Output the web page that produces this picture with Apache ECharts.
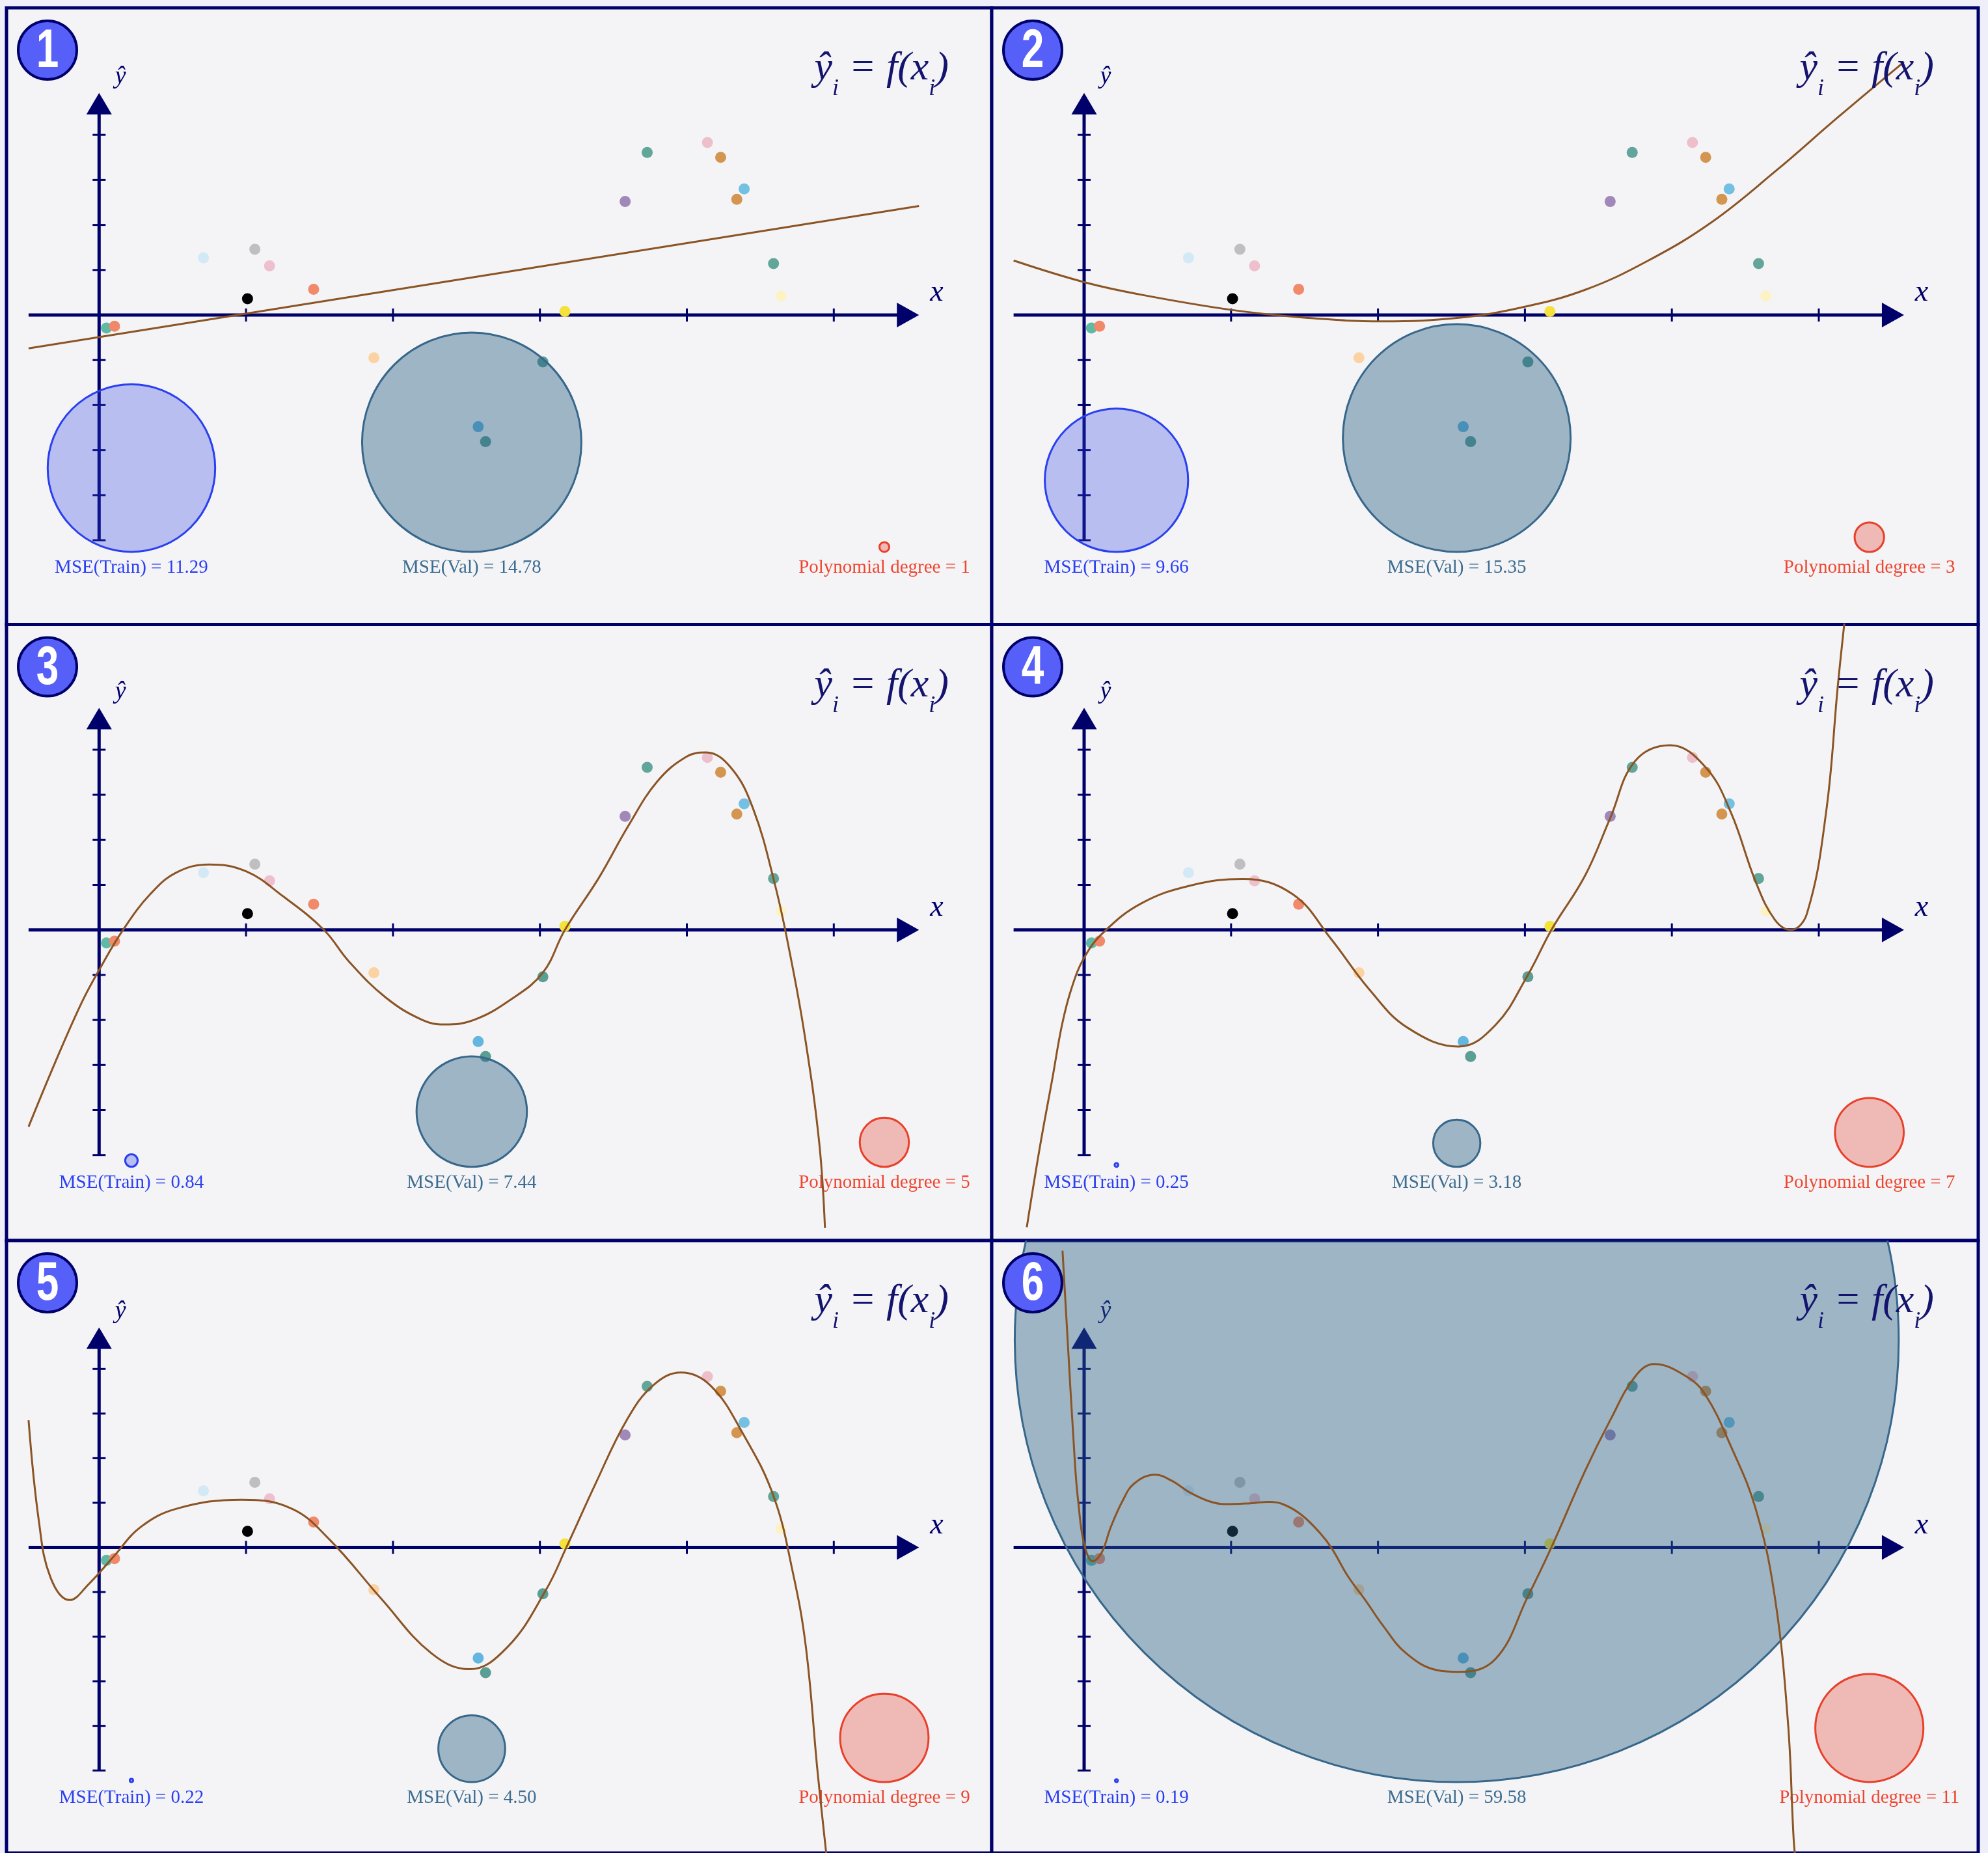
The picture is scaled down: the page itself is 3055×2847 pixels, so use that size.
<!DOCTYPE html>
<html>
<head>
<meta charset="utf-8">
<style>
  html, body { margin: 0; padding: 0; background: #efeffa; }
  #chart { width: 3055px; height: 2847px; }
</style>
<script src="https://cdn.jsdelivr.net/npm/echarts@6/dist/echarts.min.js"></script>
</head>
<body>
<div id="chart"></div>
<script>
// ---- data ----
const pointX = [0.05, 0.105, 0.71, 1.01, 1.06, 1.16, 1.46, 1.87, 2.58, 2.63, 3.02, 3.17, 3.58, 3.73, 4.14, 4.23, 4.39, 4.34, 4.59, 4.64];
const pointY = [-0.29, -0.25, 1.27, 0.36, 1.46, 1.09, 0.57, -0.95, -2.48, -2.81, -1.04, 0.08, 2.52, 3.61, 3.83, 3.50, 2.80, 2.57, 1.14, 0.42];
const pointColors = ['#5eb9a5', '#f0886a', '#d3e9f5', '#000000', '#bfbfbf', '#eebfcc', '#f08a6a', '#fbd3a3', '#62b6df', '#5a9e94',
  '#5a9e94', '#f5e13c', '#a088b8', '#62a69a', '#edbfcb', '#d39550', '#74c0e2', '#d39550', '#62a69a', '#fdf2c4'];

const degrees = [1, 3, 5, 7, 9, 11];
const mseTrain = [11.29, 9.66, 0.84, 0.25, 0.22, 0.19];
const mseVal = [14.78, 15.35, 7.44, 3.18, 4.50, 59.58];

// fitted curves, [x, y] samples
const fitDeg1 = [[-0.48, -0.74], [5.58, 2.42]];
const fitDeg3 = [[-0.48, 1.21], [0, 0.73], [0.39, 0.45], [1.01, 0.11], [1.51, -0.06], [2.03, -0.14], [2.55, -0.06], [2.98, 0.17],
  [3.41, 0.56], [3.84, 1.21], [4.27, 2.06], [4.70, 3.18], [5.13, 4.39], [5.58, 5.62]];
const fitDeg5 = [[-0.48, -4.37], [-0.3, -2.95], [-0.118, -1.61], [0, -0.89], [0.163, 0], [0.35, 0.8], [0.53, 1.28], [0.75, 1.45],
  [1.0, 1.3], [1.25, 0.75], [1.53, 0], [1.7, -0.7], [1.95, -1.5], [2.2, -2.0], [2.35, -2.1], [2.55, -2.0], [2.8, -1.55],
  [3.02, -0.95], [3.17, 0], [3.4, 1.15], [3.6, 2.3], [3.8, 3.3], [4.0, 3.85], [4.13, 3.94], [4.3, 3.6], [4.45, 2.7], [4.6, 1.0],
  [4.7, -0.5], [4.8, -2.3], [4.9, -4.7], [4.94, -6.62]];
const fitDeg7 = [[-0.39, -6.6], [-0.3, -4.8], [-0.216, -3.3], [-0.15, -2.1], [-0.086, -1.3], [0, -0.62], [0.13, -0.06], [0.39, 0.59],
  [0.73, 0.99], [1.08, 1.13], [1.42, 0.79], [1.68, -0.2], [1.94, -1.32], [2.2, -2.17], [2.55, -2.59], [2.8, -2.11], [3.02, -1.0],
  [3.18, 0], [3.41, 1.21], [3.58, 2.48], [3.75, 3.75], [3.99, 4.1], [4.23, 3.61], [4.4, 2.62], [4.57, 1.07], [4.7, 0.23], [4.81, 0],
  [4.92, 0.37], [5.05, 2.62], [5.13, 5.44], [5.18, 7.0]];
const fitDeg9 = [[-0.48, 2.85], [-0.41, 0.59], [-0.33, -0.68], [-0.2, -1.18], [-0.07, -0.82], [0.1, -0.2], [0.28, 0.45], [0.53, 0.87],
  [0.97, 1.07], [1.31, 0.87], [1.57, 0.17], [1.92, -1.15], [2.26, -2.37], [2.52, -2.73], [2.78, -2.23], [3.04, -0.96], [3.18, 0],
  [3.38, 1.44], [3.59, 2.85], [3.77, 3.63], [3.96, 3.92], [4.16, 3.63], [4.38, 2.56], [4.59, 1.15], [4.72, -0.54], [4.81, -2.23],
  [4.89, -5.04], [4.95, -6.9]];
const fitDeg11 = [[-0.147, 6.65], [-0.063, 1.91], [-0.039, 0.99], [0, 0.08], [0.059, -0.31], [0.119, -0.12], [0.182, 0.46],
  [0.261, 1.04], [0.34, 1.43], [0.483, 1.63], [0.593, 1.5], [0.72, 1.23], [0.846, 1.04], [0.957, 0.97], [1.131, 0.99], [1.258, 1.02],
  [1.352, 0.97], [1.479, 0.73], [1.606, 0.32], [1.685, -0.02], [1.796, -0.65], [1.922, -1.22], [2.033, -1.75], [2.19, -2.37],
  [2.4, -2.75], [2.55, -2.79], [2.8, -2.5], [3.02, -1.1], [3.18, 0], [3.41, 1.72], [3.58, 2.85], [3.75, 3.83], [3.88, 4.11],
  [4.1, 3.83], [4.23, 3.41], [4.4, 2.28], [4.57, 0.87], [4.7, -1.1], [4.79, -3.92], [4.83, -6.6], [4.85, -7.2]];
const fits = [fitDeg1, fitDeg3, fitDeg5, fitDeg7, fitDeg9, fitDeg11];

const xTicks = [1, 2, 3, 4, 5];
const yTicks = [-5, -4, -3, -2, -1, 1, 2, 3, 4];

// ---- layout ----
const NAVY = '#00006b';
const UX = 225.8, UY = 69.2;              // px per data unit
const colLeft = [10, 1524], colWidth = [1514, 1516], originX = [152.3, 1666];
const rowTop = [12, 959.5, 1906], rowHeight = [947.5, 946.5, 950], originY = [484, 1428.7, 2382];
const X_AXIS = [-0.48, 5.58], Y_AXIS = [-5, 4.93];
const TRAIN_CX = 0.22, VAL_CX = 2.536, DEG_CX = 5.344, CIRCLE_BASE = -5.26, LABEL_Y = -5.61;
const MSE_PX = 11.4, DEG_PX = 7.55;
const circleStyles = [
  { fill: 'rgba(45,65,225,0.30)', stroke: '#2a3ff0' },
  { fill: 'rgba(38,92,130,0.42)', stroke: '#37678a' },
  { fill: 'rgba(230,50,30,0.30)', stroke: '#e8402a' }
];
const labelColors = ['#2a3ff0', '#3d6d8f', '#ee4630'];

const panels = degrees.map((d, i) => {
  const c = i % 2, r = Math.floor(i / 2);
  const left = colLeft[c], top = rowTop[r], width = colWidth[c], height = rowHeight[r];
  const ox = originX[c], oy = originY[r];
  return {
    left, top, width, height,
    xMin: (left - ox) / UX, xMax: (left + width - ox) / UX,
    yMin: (oy - top - height) / UY, yMax: (oy - top) / UY
  };
});

function decorRenderer(i) {
  return function (params, api) {
    const kids = [];
    const seg = (p, q, w) => kids.push({ type: 'line', shape: { x1: p[0], y1: p[1], x2: q[0], y2: q[1] }, style: { stroke: NAVY, lineWidth: w } });
    const text = (p, str, font, fill) => kids.push({ type: 'text', x: p[0], y: p[1], style: { text: str, font: font, fill: fill, align: 'center', verticalAlign: 'middle' } });
    // x axis
    const xs = api.coord([X_AXIS[0], 0]), xe = api.coord([X_AXIS[1], 0]);
    seg(xs, [xe[0] - 30, xe[1]], 5);
    kids.push({ type: 'polygon', shape: { points: [xe, [xe[0] - 34, xe[1] - 19], [xe[0] - 34, xe[1] + 19]] }, style: { fill: NAVY } });
    // y axis
    const ys = api.coord([0, Y_AXIS[0]]), ye = api.coord([0, Y_AXIS[1]]);
    seg(ys, [ye[0], ye[1] + 30], 5);
    kids.push({ type: 'polygon', shape: { points: [ye, [ye[0] - 19.5, ye[1] + 33], [ye[0] + 19.5, ye[1] + 33]] }, style: { fill: NAVY } });
    xTicks.forEach(t => { const p = api.coord([t, 0]); seg([p[0], p[1] - 10], [p[0], p[1] + 10], 3); });
    yTicks.forEach(t => { const p = api.coord([0, t]); seg([p[0] - 10, p[1]], [p[0] + 10, p[1]], 3); });
    text(api.coord([0.146, 5.29]), 'ŷ', 'italic 38px "Liberation Serif", serif', NAVY);
    text(api.coord([5.70, 0.49]), 'x', 'italic 46px "Liberation Serif", serif', NAVY);
    const lf = '29px "Liberation Serif", serif';
    text(api.coord([TRAIN_CX, LABEL_Y]), 'MSE(Train) = ' + mseTrain[i].toFixed(2), lf, labelColors[0]);
    text(api.coord([VAL_CX, LABEL_Y]), 'MSE(Val) = ' + mseVal[i].toFixed(2), lf, labelColors[1]);
    text(api.coord([DEG_CX, LABEL_Y]), 'Polynomial degree = ' + degrees[i], lf, labelColors[2]);
    return { type: 'group', children: kids };
  };
}

function circleRenderer(params, api) {
  const p = api.coord([api.value(0), api.value(1)]);
  const r = api.value(2);
  const s = circleStyles[api.value(3)];
  return { type: 'circle', shape: { cx: p[0], cy: p[1] - r, r: r }, style: { fill: s.fill, stroke: s.stroke, lineWidth: 3 } };
}

const series = [];
panels.forEach((p, i) => {
  series.push({
    type: 'custom', xAxisIndex: i, yAxisIndex: i, z: 2, silent: true,
    data: [[0, 0]], renderItem: decorRenderer(i)
  });
  series.push({
    type: 'scatter', xAxisIndex: i, yAxisIndex: i, z: 3, silent: true, symbolSize: 17,
    data: pointX.map((x, k) => ({ value: [x, pointY[k]], itemStyle: { color: pointColors[k], opacity: 1 } }))
  });
  series.push({
    type: 'custom', xAxisIndex: i, yAxisIndex: i, z: 4, silent: true, clip: true,
    data: [
      [TRAIN_CX, CIRCLE_BASE, mseTrain[i] * MSE_PX, 0],
      [VAL_CX, CIRCLE_BASE, mseVal[i] * MSE_PX, 1],
      [DEG_CX, CIRCLE_BASE, degrees[i] * DEG_PX, 2]
    ],
    renderItem: circleRenderer
  });
  series.push({
    type: 'line', xAxisIndex: i, yAxisIndex: i, z: 5, silent: true, clip: true,
    data: fits[i], smooth: 0.4, showSymbol: false, symbol: 'none',
    lineStyle: { color: '#8b5424', width: 3 }
  });
});

const graphic = [];
panels.forEach((p, i) => {
  graphic.push({
    type: 'circle', z: 100, shape: { cx: p.left + 63, cy: p.top + 65, r: 45 },
    style: { fill: '#5660f8', stroke: NAVY, lineWidth: 4 }
  });
  graphic.push({
    type: 'text', z: 101, x: p.left + 63, y: p.top + 68, scaleX: 0.74,
    style: { text: String(i + 1), fill: '#ffffff', font: 'bold 84px "Liberation Sans", sans-serif', align: 'center', verticalAlign: 'middle' }
  });
  graphic.push({
    type: 'text', z: 101, x: p.left + 1448, y: p.top + 103,
    style: {
      text: '{m|ŷ}{s|i}{m| = f(x}{s|i}{m|)}',
      align: 'right', verticalAlign: 'middle',
      rich: {
        m: { fontFamily: 'Liberation Serif', fontStyle: 'italic', fontSize: 62, lineHeight: 80, verticalAlign: 'top', fill: '#14146e', color: '#14146e' },
        s: { fontFamily: 'Liberation Serif', fontStyle: 'italic', fontSize: 36, lineHeight: 34, verticalAlign: 'bottom', fill: '#14146e', color: '#14146e' }
      }
    }
  });
});

const chart = echarts.init(document.getElementById('chart'));
chart.setOption({
  animation: false,
  backgroundColor: '#efeffa',
  grid: panels.map(p => ({ left: p.left, top: p.top, width: p.width, height: p.height, show: true, backgroundColor: '#f4f4f7', borderColor: NAVY, borderWidth: 5, z: 0 })),
  xAxis: panels.map((p, i) => ({ type: 'value', gridIndex: i, min: p.xMin, max: p.xMax, show: false })),
  yAxis: panels.map((p, i) => ({ type: 'value', gridIndex: i, min: p.yMin, max: p.yMax, show: false })),
  series: series,
  graphic: graphic
});
</script>
</body>
</html>
